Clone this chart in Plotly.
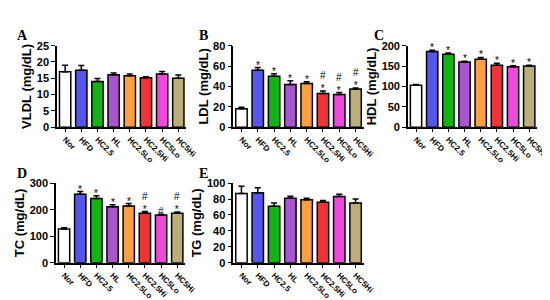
import plotly.graph_objects as go

groups = ["Nor", "HFD", "HC2.5", "HL", "HC2.5Lo", "HC2.5Hi", "HC5Lo", "HC5Hi"]
colors = ["#ffffff", "#5656ee", "#12b312", "#a855cf", "#ffa040", "#ee3434", "#ee48dc", "#bcad7a"]

vldl = [17.0, 17.5, 14.0, 16.1, 15.8, 15.2, 16.3, 15.0]
vldl_err = [2.0, 1.4, 0.9, 0.5, 0.5, 0.3, 0.8, 1.0]
vldl_sig = ["", "", "", "", "", "", "", ""]

ldl = [18.0, 56.0, 50.0, 42.0, 43.0, 33.0, 32.0, 37.5]
ldl_err = [1.5, 2.5, 2.5, 3.5, 1.5, 2.5, 2.0, 1.0]
ldl_sig = ["", "*", "*", "*", "*", "#*", "#*", "#*"]

hdl = [103, 186, 179, 160, 167, 152, 148, 150]
hdl_err = [2, 3, 3, 2, 4, 5, 3, 2]
hdl_sig = ["", "*", "*", "*", "*", "*", "*", "*"]

tc = [127, 258, 242, 211, 214, 186, 180, 186]
tc_err = [5, 10, 10, 7, 9, 7, 3, 5]
tc_sig = ["", "*", "*", "*", "*", "#*", "#", "#*"]

tg = [87, 88, 71, 81, 79, 76, 83, 75]
tg_err = [9, 6, 4, 2.5, 2, 2, 3, 5]
tg_sig = ["", "", "", "", "", "", "", ""]

panels = [
    ("A", "VLDL (mg/dL)", vldl, vldl_err, vldl_sig, [0, 25], 5, [0.091, 0.331], [0.607, 0.89], (0.013, 0.96)),
    ("B", "LDL (mg/dL)", ldl, ldl_err, ldl_sig, [0, 80], 20, [0.418, 0.66], [0.607, 0.89], (0.35, 0.96)),
    ("C", "HDL (mg/dL)", hdl, hdl_err, hdl_sig, [0, 200], 50, [0.742, 0.982], [0.607, 0.89], (0.676, 0.96)),
    ("D", "TC (mg/dL)", tc, tc_err, tc_sig, [0, 300], 100, [0.089, 0.329], [0.136, 0.413], (0.013, 0.48)),
    ("E", "TG (mg/dL)", tg, tg_err, tg_sig, [0, 100], 20, [0.418, 0.66], [0.136, 0.413], (0.35, 0.48)),
]

fig = go.Figure()
annotations = []
for i, (letter, title, vals, errs, sig, yr, dt, xd, yd, lab) in enumerate(panels):
    n = "" if i == 0 else str(i + 1)
    fig.add_trace(go.Bar(
        x=groups, y=vals,
        marker={"color": colors, "line": {"color": "black", "width": 1.5}},
        error_y={"type": "data", "symmetric": False, "array": errs, "arrayminus": [0] * len(errs),
                 "color": "black", "thickness": 1.5, "width": 3},
        xaxis="x" + n, yaxis="y" + n, showlegend=False,
    ))
    fig.update_layout({
        "xaxis" + n: {
            "domain": xd, "anchor": "y" + n, "tickangle": 45, "showline": True, "linecolor": "black",
            "linewidth": 1.5, "ticks": "outside", "ticklen": 3, "tickcolor": "black", "showgrid": False,
            "tickfont": {"family": "Arial, Liberation Sans", "size": 8, "color": "black", "weight": "bold"},
        },
        "yaxis" + n: {
            "domain": yd, "anchor": "x" + n, "range": yr, "dtick": dt, "showline": True, "linecolor": "black",
            "linewidth": 1.5, "ticks": "outside", "ticklen": 4, "tickcolor": "black", "showgrid": False,
            "zeroline": False,
            "tickfont": {"family": "Arial, Liberation Sans", "size": 11, "color": "black", "weight": "bold"},
            "title": {"text": title, "standoff": 2,
                      "font": {"family": "Arial, Liberation Sans", "size": 13, "color": "black", "weight": "bold"}},
        },
    })
    annotations.append({"text": "<b>" + letter + "</b>", "x": lab[0], "y": lab[1], "xref": "paper", "yref": "paper",
                        "showarrow": False, "xanchor": "left", "yanchor": "top",
                        "font": {"family": "Liberation Serif, Times New Roman", "size": 14, "color": "black"}})
    # significance marks stacked in one label: "#" above "*"
    for g, v, e, s in zip(groups, vals, errs, sig):
        if s:
            annotations.append({"text": "<br>".join(s), "x": g, "y": v + e, "xref": "x" + n, "yref": "y" + n,
                                "showarrow": False, "yanchor": "bottom", "yshift": -4, "borderpad": 0,
                                "font": {"family": "Arial", "size": 10, "color": "black"}})

fig.update_layout(
    width=550, height=300, margin={"l": 0, "r": 0, "t": 0, "b": 0},
    plot_bgcolor="white", paper_bgcolor="white", bargap=0.3,
    annotations=annotations,
)
fig.write_html("out.html")
